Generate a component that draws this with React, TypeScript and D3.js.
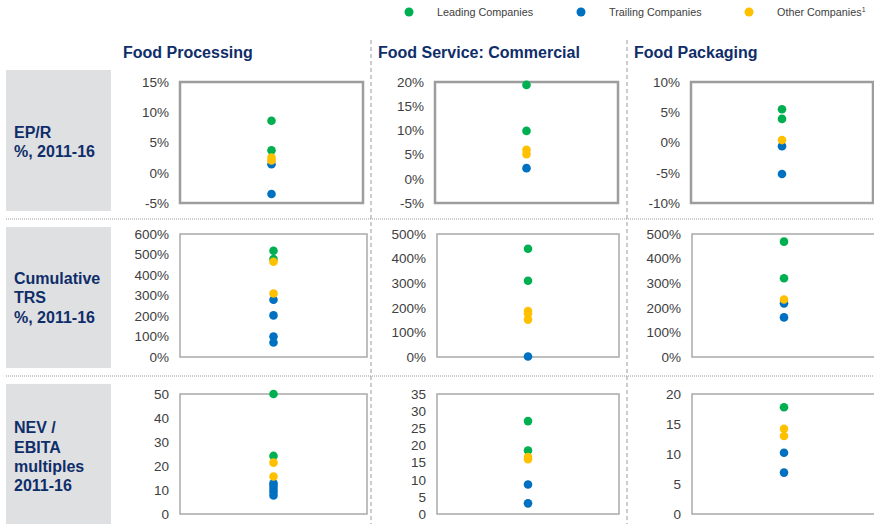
import React from "react";
import * as d3 from "d3";

// column and row headings
const columns = ["Food Processing", "Food Service: Commercial", "Food Packaging"];
const rowLabels = [
  ["EP/R", "%, 2011-16"],
  ["Cumulative", "TRS", "%, 2011-16"],
  ["NEV /", "EBITA", "multiples", "2011-16"],
];

// y domains and ticks for each row / column
const domains = [
  [[-5, 15], [-5, 20], [-10, 10]],
  [[0, 600], [0, 500], [0, 500]],
  [[0, 50], [0, 35], [0, 20]],
];
const tickSteps = [
  [5, 5, 5],
  [100, 100, 100],
  [10, 5, 5],
];
const tickSuffix = ["%", "%", ""];

// values: [leading, trailing, other]
const eprLeading = [[8.6, 3.7], [19.4, 9.9], [5.5, 3.9]];
const eprTrailing = [[1.4, -3.5], [2.2], [-0.6, -5.2]];
const eprOther = [[2.5, 2.05], [6.0, 5.1], [0.4]];

const trsLeading = [[518, 478], [440, 310], [469, 320]];
const trsTrailing = [[279, 203, 100, 71], [2], [218, 161]];
const trsOther = [[465, 310], [187, 177, 152], [234]];

const nevLeading = [[50, 24.2], [27.1, 18.5], [17.8]];
const nevTrailing = [[12.8, 11.7, 10.4, 9.2, 7.7], [8.6, 3.1], [10.2, 6.9]];
const nevOther = [[21.4, 15.6], [16.6, 16.0], [14.2, 13.0]];

const seriesNames = ["Leading Companies", "Trailing Companies", "Other Companies"];
const seriesColors = ["#00B050", "#0070C0", "#FFC000"];

const rowsData = [
  [eprLeading, eprTrailing, eprOther],
  [trsLeading, trsTrailing, trsOther],
  [nevLeading, nevTrailing, nevOther],
];

// layout
const width = 874;
const height = 524;
const titleX = [123, 378, 634];
const boxX = [
  [[180, 363], [435, 618], [691, 873]],
  [[180, 367], [437, 619], [692, 876]],
  [[180, 367], [437, 619], [692, 876]],
];
const boxY = [[82, 203], [234, 357], [394, 514]];
const labelBoxY = [[70, 211], [227, 368], [384, 530]];
const labelTextY = [[138, 157], [284, 303, 323], [433, 453, 472, 491]];
const rowSeparators = [219, 376];
const colSeparators = [371, 627];

const navy = "#0F2D69";
const font = "'Liberation Sans', Arial, sans-serif";

const drawOrder = [0, 1, 2];

const App = () => {
  return (
    <svg
      width={width}
      height={height}
      style={{ position: "absolute", left: 0, top: 0, background: "#fff" }}
      fontFamily={font}
    >
      {/* legend */}
      {seriesNames.map((name, i) => {
        const cx = [409, 581, 749][i];
        return (
          <g key={name}>
            <circle cx={cx} cy={12} r={4.5} fill={seriesColors[i]} />
            <text x={cx + 28} y={16} fontSize={10.8} fill="#404040">
              {name}
              {i === 2 ? <tspan fontSize={7} dy={-4}>1</tspan> : null}
            </text>
          </g>
        );
      })}

      {/* column titles */}
      {columns.map((c, i) => (
        <text key={c} x={titleX[i]} y={58} fontSize={16} fontWeight="bold" fill={navy}>
          {c}
        </text>
      ))}

      {/* separators */}
      {rowSeparators.map((y) => (
        <line key={y} x1={6} x2={width} y1={y} y2={y} stroke="#9a9a9a" strokeWidth={1} strokeDasharray="1,1" />
      ))}
      {colSeparators.map((x) => (
        <line key={x} x1={x} x2={x} y1={40} y2={height} stroke="#9a9a9a" strokeWidth={1} strokeDasharray="4,3" />
      ))}

      {rowsData.map((series, r) => (
        <g key={r}>
          <rect
            x={6}
            y={labelBoxY[r][0]}
            width={105}
            height={labelBoxY[r][1] - labelBoxY[r][0]}
            fill="#DFE0E2"
          />
          {rowLabels[r].map((line, k) => (
            <text key={k} x={14} y={labelTextY[r][k]} fontSize={16} fontWeight="bold" fill={navy}>
              {line}
            </text>
          ))}

          {columns.map((_, c) => {
            const [x0, x1] = boxX[r][c];
            const y = d3.scaleLinear().domain(domains[r][c]).range([boxY[r][1], boxY[r][0]]);
            const [lo, hi] = domains[r][c];
            const ticks = d3.range(lo, hi + 0.001, tickSteps[r][c]);
            const cx = (x0 + x1) / 2;
            return (
              <g key={c}>
                <rect
                  x={x0}
                  y={boxY[r][0]}
                  width={x1 - x0}
                  height={boxY[r][1] - boxY[r][0]}
                  fill="none"
                  stroke={r === 0 ? "#9d9d9d" : "#a9a9a9"}
                  strokeWidth={r === 0 ? 2.5 : 1.5}
                />
                {ticks.map((t) => (
                  <text
                    key={t}
                    x={x0 - 11}
                    y={y(t)}
                    dy="0.36em"
                    textAnchor="end"
                    fontSize={13.5}
                    fill="#404040"
                  >
                    {t + tickSuffix[r]}
                  </text>
                ))}
                {drawOrder.map((s) =>
                  series[s][c].map((v, k) => (
                    <circle key={`${s}-${k}`} cx={cx} cy={y(v)} r={4.3} fill={seriesColors[s]} />
                  ))
                )}
              </g>
            );
          })}
        </g>
      ))}
    </svg>
  );
};

export default App;
